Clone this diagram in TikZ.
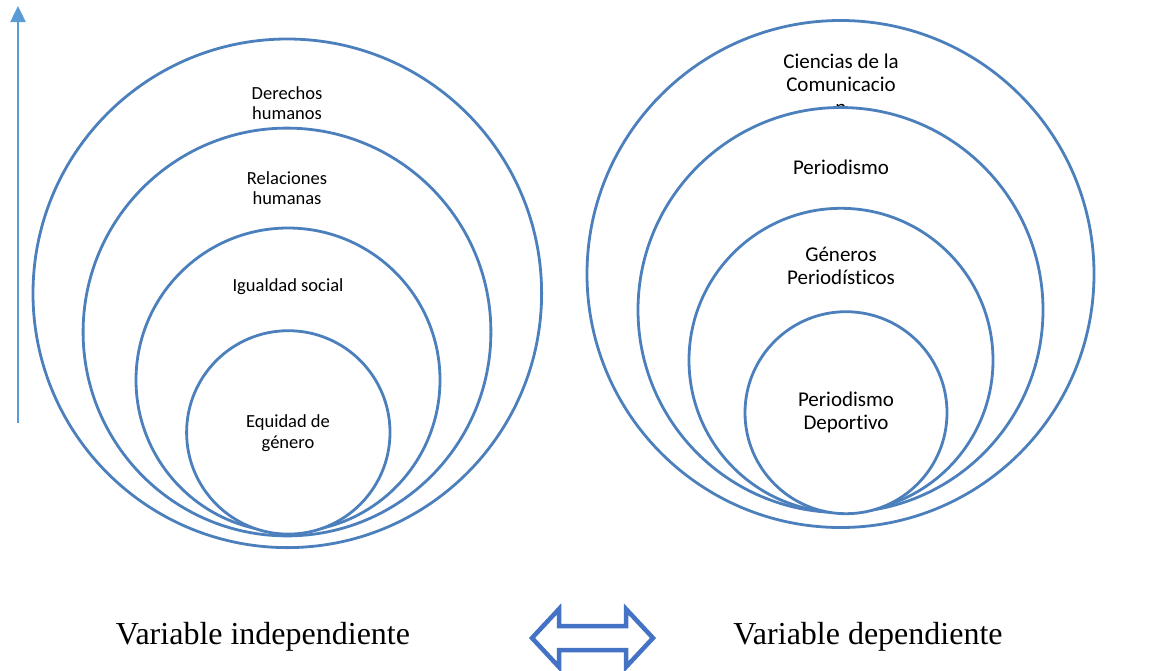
\documentclass[tikz,border=0pt]{standalone}
\usepackage{fontspec}
\setmainfont{Carlito}[Ligatures={NoCommon,NoDiscretionary,NoContextual}]
\newfontfamily\serifb{Liberation Serif}
\usetikzlibrary{arrows.meta}
\definecolor{circblue}{RGB}{76,128,189}
\definecolor{arrowblue}{RGB}{91,155,213}
\definecolor{dblblue}{RGB}{68,114,196}
\begin{document}
\begin{tikzpicture}[x=1pt,y=-1pt,
  ring/.style={circle, draw=circblue, line width=2.8pt, fill=white, inner sep=0pt, outer sep=0pt},
  lbl/.style={align=center, font=\fontsize{18.5}{20.5}\selectfont, inner sep=0pt},
  rlbl/.style={align=center, font=\fontsize{21}{23}\selectfont, inner sep=0pt},
  varlbl/.style={font=\serifb\fontsize{32}{36}\selectfont, inner sep=0pt}]
\useasboundingbox (0,0) rectangle (1155,670);

% vertical arrow
\coordinate (vb) at (18,423);
\coordinate (vt) at (18,6);
\draw[line width=2.5pt, arrowblue, -{Triangle[width=15pt,length=16pt]}] (vb) -- (vt);

% left circles
\node[ring, minimum size=508.6pt] (L1) at (287.3,293.3) {};
\node[lbl] (tL1) at (287,103) {Derechos\\humanos};
\node[ring, minimum size=407.8pt] (L2) at (287,332) {};
\node[lbl] (tL2) at (287,188) {Relaciones\\humanas};
\node[ring, minimum size=304pt] (L3) at (288,380) {};
\node[lbl] (tL3) at (288,287) {Igualdad social};
\node[ring, minimum size=203.4pt] (L4) at (288.3,432.4) {};
\node[lbl] (tL4) at (288,433) {Equidad de\\género};

% right circles
\node[ring, minimum size=507pt] (R1) at (840.5,274) {};
\node[rlbl] (tR1) at (841,84) {Ciencias de la\\Comunicacio\\n};
\node[ring, minimum size=405pt] (R2) at (840.5,310) {};
\node[rlbl] (tR2) at (841,167) {Periodismo};
\node[ring, minimum size=304pt] (R3) at (841,360.3) {};
\node[rlbl] (tR3) at (841,266) {Géneros\\Periodísticos};
\node[ring, minimum size=202pt] (R4) at (846,412.7) {};
\node[rlbl] (tR4) at (846,412) {Periodismo\\Deportivo};

% bottom labels
\node[varlbl] (vi) at (263,637) {Variable independiente};
\node[varlbl] (vd) at (868,637) {Variable dependiente};

% double arrow
\draw[dblblue, line width=4.5pt, line join=miter, fill=white]
  (532,638) -- (559,609) -- (559,626) -- (626,626) -- (626,609) -- (653,638)
  -- (626,667) -- (626,650) -- (559,650) -- (559,667) -- cycle;
\end{tikzpicture}
\end{document}
